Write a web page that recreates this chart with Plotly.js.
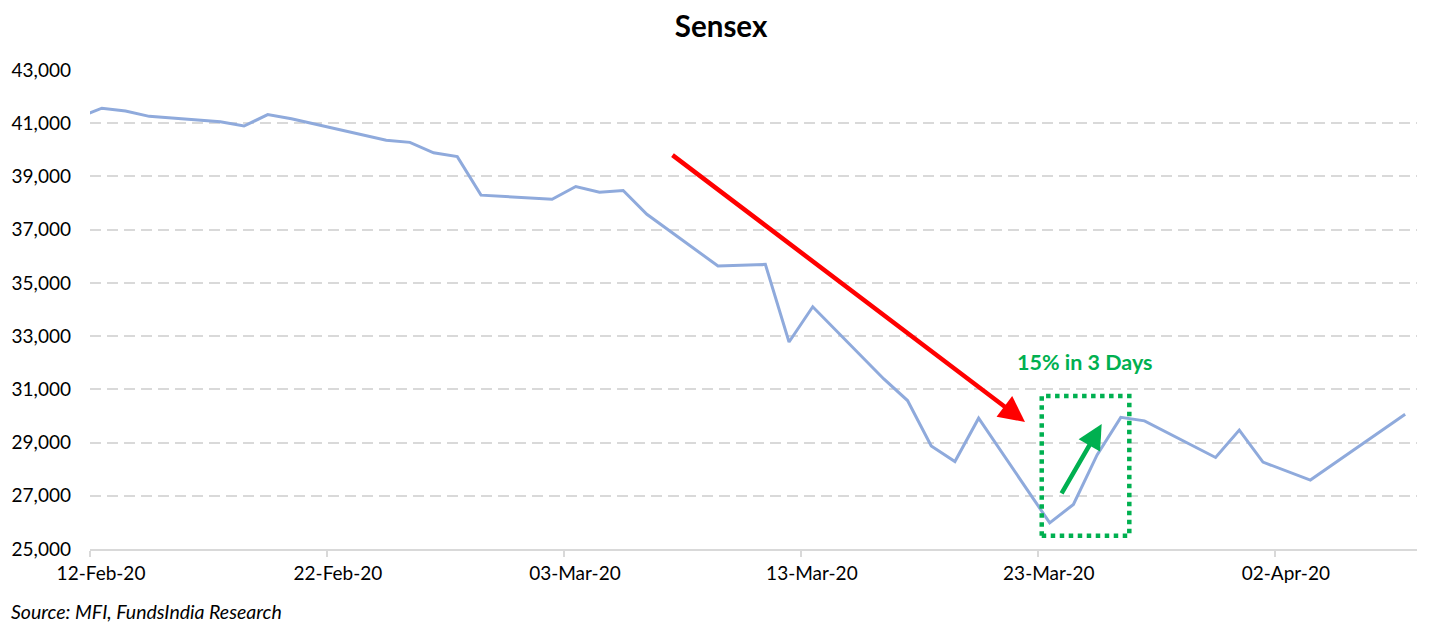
<!DOCTYPE html>
<html>
<head>
<meta charset="utf-8">
<script src="https://cdn.plot.ly/plotly-3.0.1.min.js"></script>
<style>
  html, body { margin: 0; padding: 0; background: #fff; }
  #chart { width: 1435px; height: 627px; }
</style>
</head>
<body>
<div id="chart"></div>
<script>
// ---- Data (Sensex daily closes) ----
const dates = [
  '2020-02-11','2020-02-12','2020-02-13','2020-02-14','2020-02-17','2020-02-18','2020-02-19','2020-02-20',
  '2020-02-24','2020-02-25','2020-02-26','2020-02-27','2020-02-28',
  '2020-03-02','2020-03-03','2020-03-04','2020-03-05','2020-03-06',
  '2020-03-09','2020-03-11','2020-03-12','2020-03-13',
  '2020-03-16','2020-03-17','2020-03-18','2020-03-19','2020-03-20',
  '2020-03-23','2020-03-24','2020-03-25','2020-03-26','2020-03-27',
  '2020-03-30','2020-03-31','2020-04-01','2020-04-03','2020-04-07'
];
const sensex = [
  41216, 41566, 41460, 41258, 41056, 40894, 41323, 41170,
  40363, 40281, 39888, 39746, 38297,
  38144, 38623, 38409, 38471, 37577,
  35635, 35697, 32778, 34103,
  31390, 30579, 28870, 28288, 29916,
  25981, 26674, 28536, 29947, 29816,
  28440, 29468, 28265, 27591, 30067
];
const tickDates = ['2020-02-12','2020-02-22','2020-03-03','2020-03-13','2020-03-23','2020-04-02'];
const tickLabels = ['12-Feb-20','22-Feb-20','03-Mar-20','13-Mar-20','23-Mar-20','02-Apr-20'];
const yTicks = [25000, 27000, 29000, 31000, 33000, 35000, 37000, 39000, 41000, 43000];
const yTickLabels = ['25,000','27,000','29,000','31,000','33,000','35,000','37,000','39,000','41,000','43,000'];
const titleText = 'Sensex';
const calloutText = '15% in 3 Days';
const sourceText = 'Source: MFI, FundsIndia Research';

// Excel "between tick marks" date axis: tick sits half a day before each date
function halfDayBefore(d) {
  const t = new Date(d + 'T00:00:00Z').getTime() - 12 * 3600 * 1000;
  return new Date(t).toISOString().slice(0, 19).replace('T', ' ');
}
const tickVals = tickDates.map(halfDayBefore);

const FONT = 'Lato, "Open Sans", sans-serif';
const GREEN = '#00B050';

const trace = {
  x: dates,
  y: sensex,
  type: 'scatter',
  mode: 'lines',
  line: { color: '#8FAADC', width: 3 },
  hoverinfo: 'x+y'
};

const layout = {
  width: 1435,
  height: 627,
  margin: { l: 90, r: 18, t: 70, b: 78 },
  paper_bgcolor: '#fff',
  plot_bgcolor: '#fff',
  showlegend: false,
  font: { family: FONT, color: '#000', size: 19 },
  title: {
    text: '<b>' + titleText + '</b>',
    font: { family: FONT, size: 29.5, color: '#000' },
    xref: 'container', x: 0.5025, xanchor: 'center',
    yref: 'container', y: 0.957, yanchor: 'middle'
  },
  xaxis: {
    type: 'date',
    range: [halfDayBefore('2020-02-12'), '2020-04-07 12:00:00'],
    tickmode: 'array',
    tickvals: tickVals,
    ticktext: tickLabels,
    ticklabelshift: 11,
    showgrid: false,
    zeroline: false,
    showline: true,
    linecolor: '#D9D9D9',
    linewidth: 2,
    ticks: 'outside',
    ticklen: 6,
    tickwidth: 2,
    tickcolor: '#D9D9D9',
    tickfont: { family: FONT, size: 19, color: '#000' },
    fixedrange: true
  },
  yaxis: {
    range: [25000, 43000],
    tickmode: 'array',
    tickvals: yTicks,
    ticktext: yTickLabels,
    showgrid: true,
    gridcolor: '#D9D9D9',
    gridwidth: 2,
    griddash: '11px,6px',
    zeroline: false,
    showline: false,
    ticks: '',
    ticklabelstandoff: 18,
    tickfont: { family: FONT, size: 19, color: '#000' },
    fixedrange: true
  },
  shapes: [
    {
      type: 'rect', xref: 'paper', yref: 'paper',
      x0: 0.7172, x1: 0.7832, y0: 0.0278, y1: 0.3194,
      line: { color: GREEN, width: 4.5, dash: 'dot' },
      fillcolor: 'rgba(0,0,0,0)'
    }
  ],
  annotations: [
    {
      xref: 'paper', yref: 'paper', x: 0.7046, y: 0.2651,
      ax: -354, ay: -268, axref: 'pixel', ayref: 'pixel',
      showarrow: true, arrowhead: 2, arrowsize: 1.15, arrowwidth: 4.5,
      arrowcolor: '#FF0000', text: ''
    },
    {
      xref: 'paper', yref: 'paper', x: 0.7624, y: 0.261,
      ax: -41, ay: 71, axref: 'pixel', ayref: 'pixel',
      showarrow: true, arrowhead: 2, arrowsize: 1.1, arrowwidth: 4.5,
      arrowcolor: GREEN, text: ''
    },
    {
      xref: 'paper', yref: 'paper', x: 0.7496, y: 0.3898,
      xanchor: 'center', yanchor: 'middle', showarrow: false,
      text: '<b>' + calloutText + '</b>',
      font: { family: FONT, size: 21.5, color: GREEN }
    },
    {
      xref: 'paper', yref: 'paper', x: -0.0611, y: -0.1315,
      xanchor: 'left', yanchor: 'middle', showarrow: false,
      text: '<i>' + sourceText + '</i>',
      font: { family: FONT, size: 19.5, color: '#000' }
    }
  ]
};

Plotly.newPlot('chart', [trace], layout, { displayModeBar: false, staticPlot: true });
</script>
</body>
</html>
